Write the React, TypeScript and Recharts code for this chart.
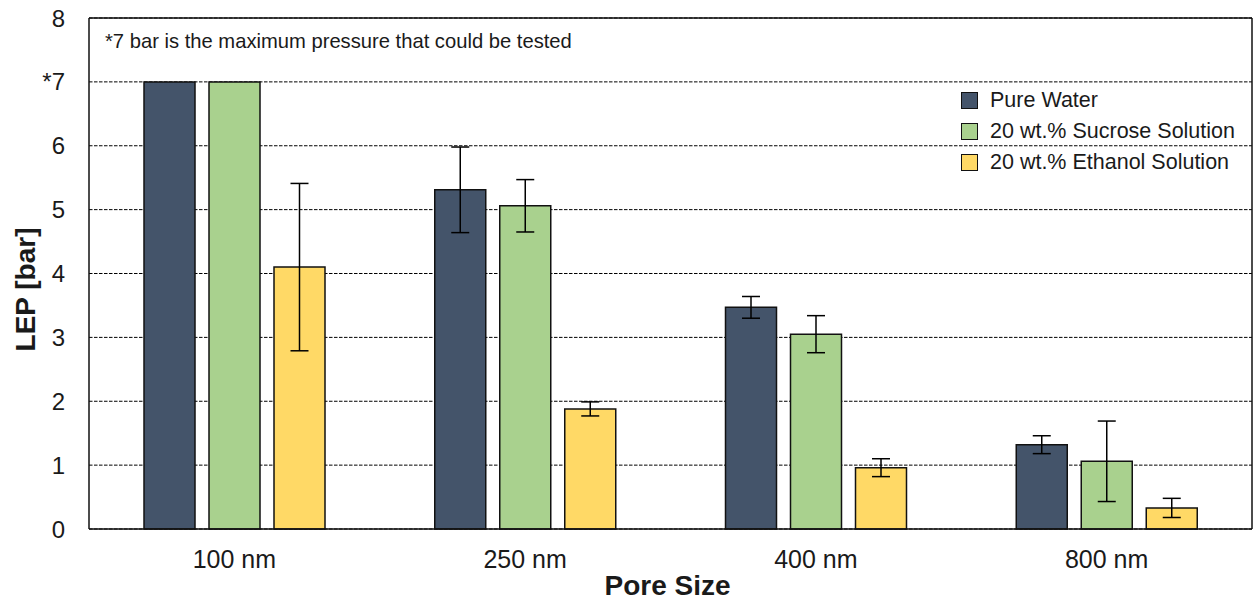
import {
  Bar,
  BarChart,
  CartesianGrid,
  ErrorBar,
  Legend,
  XAxis,
  YAxis,
} from "recharts";

const poreSizes = ["100 nm", "250 nm", "400 nm", "800 nm"];
const pureWater = [7, 5.31, 3.47, 1.32];
const pureWaterErr = [null, 0.67, 0.17, 0.14];
const sucrose = [7, 5.06, 3.05, 1.06];
const sucroseErr = [null, 0.41, 0.29, 0.63];
const ethanol = [4.1, 1.88, 0.96, 0.33];
const ethanolErr = [1.31, 0.11, 0.14, 0.15];
const yTicks = [0, 1, 2, 3, 4, 5, 6, 7, 8];

const series = [
  { key: "water", name: "Pure Water", color: "#44546A" },
  { key: "sucrose", name: "20 wt.% Sucrose Solution", color: "#A9D18E" },
  { key: "ethanol", name: "20 wt.% Ethanol Solution", color: "#FFD966" },
];

const data = poreSizes.map((size, i) => ({
  size,
  water: pureWater[i],
  waterErr: pureWaterErr[i],
  sucrose: sucrose[i],
  sucroseErr: sucroseErr[i],
  ethanol: ethanol[i],
  ethanolErr: ethanolErr[i],
}));

const font = "'Liberation Sans', Arial, Helvetica, sans-serif";
const ink = "#1a1a1a";
const frame = { stroke: "#111", strokeWidth: 1.5 };

// note printed just under the top edge of the plot box
const Note = ({ viewBox }: any) => (
  <text
    x={viewBox.x + 16}
    y={viewBox.y + viewBox.height + 30}
    fontFamily={font}
    fontSize={20.2}
    fill={ink}
  >
    *7 bar is the maximum pressure that could be tested
  </text>
);

const YTitle = ({ viewBox }: any) => {
  const x = viewBox.x + 25;
  const y = viewBox.y + viewBox.height / 2 + 16;
  return (
    <text
      x={x}
      y={y}
      transform={`rotate(-90, ${x}, ${y})`}
      textAnchor="middle"
      dominantBaseline="central"
      fontFamily={font}
      fontSize={28}
      fontWeight="bold"
      fill={ink}
    >
      LEP [bar]
    </text>
  );
};

const XTitle = ({ viewBox }: any) => (
  <text
    x={viewBox.x + viewBox.width / 2 - 3}
    y={viewBox.y + viewBox.height - 6}
    textAnchor="middle"
    fontFamily={font}
    fontSize={28}
    fontWeight="bold"
    fill={ink}
  >
    Pore Size
  </text>
);

const LegendBox = () => (
  <div style={{ fontFamily: font, fontSize: 21.5, color: ink }}>
    {series.map((s) => (
      <div
        key={s.key}
        style={{ display: "flex", alignItems: "center", height: 31 }}
      >
        <span
          style={{
            width: 15,
            height: 15,
            background: s.color,
            border: "1.5px solid #111",
            marginRight: 12,
          }}
        />
        <span>{s.name}</span>
      </div>
    ))}
  </div>
);

export default function App() {
  return (
    <div style={{ width: 1253, height: 601, background: "#fff" }}>
      <style>{"body { margin: 0; overflow: hidden; }"}</style>
      <BarChart
        width={1253}
        height={601}
        data={data}
        margin={{ top: 17, right: 0, left: 0, bottom: 0 }}
        barGap={14}
      >
        <CartesianGrid
          vertical={false}
          stroke="#000"
          strokeDasharray="3.5 1.5"
        />
        <XAxis
          dataKey="size"
          height={72}
          axisLine={frame}
          tickLine={false}
          tickSize={0}
          tickMargin={21}
          tick={{ fill: ink, fontSize: 25, fontFamily: font }}
          label={<XTitle />}
        />
        <XAxis
          xAxisId="top"
          dataKey="size"
          orientation="top"
          height={1}
          tick={false}
          tickLine={false}
          axisLine={frame}
          label={<Note />}
        />
        <YAxis
          width={89}
          domain={[0, 8]}
          ticks={yTicks}
          interval={0}
          axisLine={frame}
          tickLine={false}
          tickSize={0}
          tickMargin={24}
          tick={{ fill: ink, fontSize: 24, fontFamily: font }}
          tickFormatter={(v: number) => (v === 7 ? "*7" : String(v))}
          label={<YTitle />}
        />
        <YAxis
          yAxisId="right"
          orientation="right"
          width={1}
          domain={[0, 8]}
          tick={false}
          tickLine={false}
          axisLine={frame}
        />
        <Legend
          layout="vertical"
          align="center"
          verticalAlign="middle"
          content={<LegendBox />}
          wrapperStyle={{ left: 961, top: 85, width: "auto", height: "auto" }}
        />
        {series.map((s) => (
          <Bar
            key={s.key}
            dataKey={s.key}
            name={s.name}
            fill={s.color}
            stroke="#111"
            strokeWidth={1.5}
            barSize={51}
            isAnimationActive={false}
          >
            <ErrorBar
              dataKey={`${s.key}Err`}
              width={9}
              stroke="#000"
              strokeWidth={1.5}
            />
          </Bar>
        ))}
      </BarChart>
    </div>
  );
}
